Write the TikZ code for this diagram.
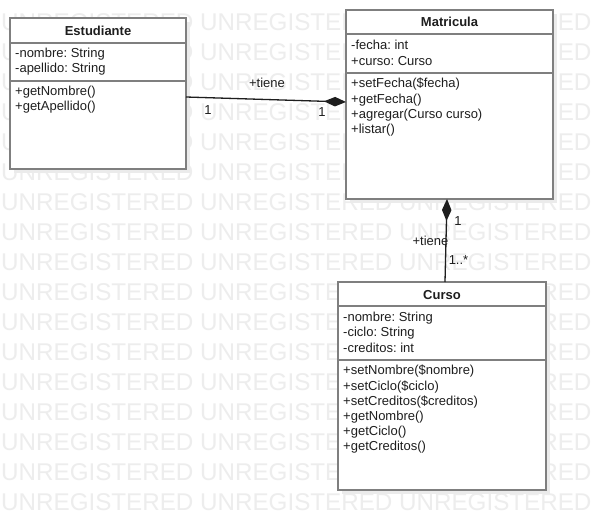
\documentclass[tikz,border=0pt]{standalone}
\usepackage{fontspec}
\setmainfont{Liberation Sans}
\usetikzlibrary{arrows.meta,shadows}
\definecolor{wmgray}{HTML}{EDEDED}
\definecolor{framegray}{HTML}{7F7F7F}
\definecolor{ink}{HTML}{1E1E1E}
\frenchspacing
\tikzset{
  umlbox/.style={draw=framegray, line width=2pt, fill=white, inner sep=0pt, outer sep=0pt,
    anchor=north west,
    drop shadow={shadow xshift=4pt, shadow yshift=-4pt, fill=black!8, opacity=1}},
  divider/.style={draw=framegray, line width=2pt},
  member/.style={anchor=base west, inner sep=0pt, font=\fontsize{13}{15}\selectfont, text=ink},
  classtitle/.style={anchor=base, inner sep=0pt, font=\fontsize{13}{15}\selectfont\bfseries, text=ink},
  watermark/.style={anchor=base west, inner sep=0pt, font=\fontsize{24.2}{28}\selectfont, text=wmgray},
  assoc/.style={draw=ink, line width=1.3pt, -{Diamond[length=22pt,width=9.5pt]}},
  mult/.style={inner sep=0pt, font=\fontsize{13}{15}\selectfont, text=ink},
}
\begin{document}
\begin{tikzpicture}[x=1pt,y=-1pt]
\path[fill=white, use as bounding box] (0,0) rectangle (594,530);

% background watermark rows
\foreach \r in {0,...,16} {
  \node[watermark] (wm\r) at (1, 30.3+30*\r) {UNREGISTERED UNREGISTERED UNREGISTERED};
}

% class Estudiante
\node[umlbox, minimum width=176pt, minimum height=151pt] (est) at (10,18) {};
\draw[divider] (10,43) -- (186,43);
\draw[divider] (10,81) -- (186,81);
\node[classtitle] (est-t) at (98,35) {Estudiante};
\node[member] (est-a1) at (15,57.7) {-nombre: String};
\node[member] (est-a2) at (15,72.7) {-apellido: String};
\node[member] (est-m1) at (15,95) {+getNombre()};
\node[member] (est-m2) at (15,110) {+getApellido()};

% class Matricula
\node[umlbox, minimum width=207pt, minimum height=189pt] (mat) at (346,10) {};
\draw[divider] (346,34) -- (553,34);
\draw[divider] (346,73) -- (553,73);
\node[classtitle] (mat-t) at (449.5,26.7) {Matricula};
\node[member] (mat-a1) at (351,49.3) {-fecha: int};
\node[member] (mat-a2) at (351,65) {+curso: Curso};
\node[member] (mat-m1) at (351,87.3) {+setFecha(\$fecha)};
\node[member] (mat-m2) at (351,103.3) {+getFecha()};
\node[member] (mat-m3) at (351,118.3) {+agregar(Curso curso)};
\node[member] (mat-m4) at (351,133.3) {+listar()};

% class Curso
\node[umlbox, minimum width=208pt, minimum height=208pt] (cur) at (338,282) {};
\draw[divider] (338,306) -- (546,306);
\draw[divider] (338,360) -- (546,360);
\node[classtitle] (cur-t) at (442,299) {Curso};
\node[member] (cur-a1) at (343,321.7) {-nombre: String};
\node[member] (cur-a2) at (343,336.7) {-ciclo: String};
\node[member] (cur-a3) at (343,352.3) {-creditos: int};
\node[member] (cur-m1) at (343,374.3) {+setNombre(\$nombre)};
\node[member] (cur-m2) at (343,390) {+setCiclo(\$ciclo)};
\node[member] (cur-m3) at (343,405) {+setCreditos(\$creditos)};
\node[member] (cur-m4) at (343,420) {+getNombre()};
\node[member] (cur-m5) at (343,435.7) {+getCiclo()};
\node[member] (cur-m6) at (343,450.7) {+getCreditos()};

% compositions
\draw[assoc] ([yshift=-3.5pt]est.east) -- ([yshift=2.5pt]mat.west);
\node[mult] (l1) at (267,83) {+tiene};
\node[mult] (l1a) at (208,110) {1};
\node[mult] (l1b) at (322,112) {1};

\draw[assoc] ([xshift=3pt]cur.north) -- ([xshift=-2.5pt]mat.south);
\node[mult] (l2b) at (458,221.5) {1};
\node[mult] (l2) at (430.5,240.5) {+tiene};
\node[mult] (l2a) at (458.5,260) {1..*};
\end{tikzpicture}
\end{document}
